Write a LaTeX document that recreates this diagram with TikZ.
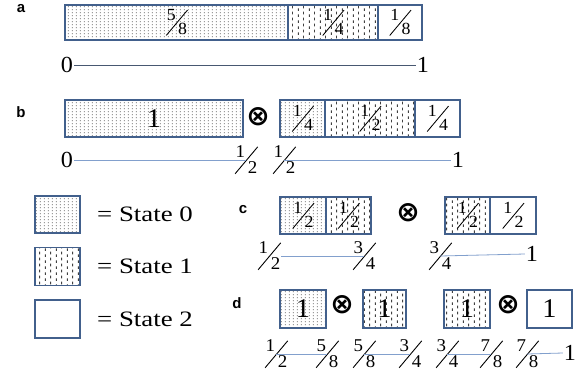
\documentclass[tikz,border=0pt]{standalone}
\usepackage{fontspec}
\setmainfont{Liberation Serif}[FakeStretch=1.05]
\setsansfont{Liberation Sans}
\newfontfamily\widefont{Liberation Serif}[FakeStretch=1.22]
\newfontfamily\symfont{DejaVu Sans}
\usepackage{graphicx}
\usepackage{tikz}
\usetikzlibrary{patterns,positioning}
\definecolor{boxblue}{RGB}{66,96,140}
\definecolor{axisblue}{RGB}{130,160,205}
% slanted fraction: numerator up left, denominator down right
\newcommand\fr[2]{\kern.05em\raisebox{.85em}{#1}\kern-.575em\raisebox{-.05em}{\rotatebox{50}{\rule{1.95em}{.05em}}}\kern-.57em#2}
\pgfdeclarepatternformonly{finedots}{\pgfqpoint{0pt}{0pt}}{\pgfqpoint{3.5pt}{3pt}}{\pgfqpoint{3.5pt}{3pt}}{%
  \pgfpathrectangle{\pgfqpoint{1pt}{1pt}}{\pgfqpoint{1pt}{1pt}}\pgfusepath{fill}}
\pgfdeclarepatternformonly{vdashes}{\pgfqpoint{0pt}{0pt}}{\pgfqpoint{11pt}{6pt}}{\pgfqpoint{11pt}{6pt}}{%
  \pgfpathrectangle{\pgfqpoint{1pt}{0pt}}{\pgfqpoint{1pt}{3pt}}\pgfusepath{fill}
  \pgfpathrectangle{\pgfqpoint{6.5pt}{3pt}}{\pgfqpoint{1pt}{3pt}}\pgfusepath{fill}}
\tikzset{Cells/.style = {% boxes of the three states
     cell/.style = {draw=boxblue, line width=1.6pt, inner sep=0pt, outer sep=0pt,
                    minimum height=37pt, font=\fontsize{17}{17}\selectfont},
     zero/.style = {cell, pattern=finedots, pattern color=black!60},
      one/.style = {cell, pattern=vdashes, pattern color=black!75},
      two/.style = {cell, fill=white},
      big/.style = {font=\fontsize{27}{27}\selectfont},
     axis/.style = {draw=axisblue, line width=0.8pt},
     tick/.style = {inner sep=1pt, font=\fontsize{18}{18}\selectfont},
    digit/.style = {inner sep=1pt, font=\fontsize{23}{23}\selectfont},
      tag/.style = {inner sep=0pt, font=\fontsize{15}{15}\selectfont\sffamily\bfseries},
   tensor/.style = {inner sep=0pt, font=\fontsize{28}{28}\selectfont\symfont\bfseries},
statetext/.style = {inner sep=0pt, font=\fontsize{22}{22}\selectfont\widefont}}
        }

\begin{document}
\begin{tikzpicture}[Cells, x=1pt, y=-1pt]
\useasboundingbox (0,0) rectangle (586,376);

% a
\node[tag] (tagA) at (21,9) {a};
\node[zero, minimum width=223pt, minimum height=35pt] (a01) at (176.5,22.5) {\fr58};
\node[one, minimum width=90pt, minimum height=35pt, right=0pt of a01] (a02) {\fr14};
\node[two, minimum width=44pt, minimum height=35pt, right=0pt of a02] (a03) {\fr18};
\node[digit] (a04) at (67,65) {0};
\node[digit] (a05) at (423,65) {1};
\draw[axis, draw=black!45!axisblue] (a04.east) -- (a05.west);

% b
\node[tag] (tagB) at (21,112) {b};
\node[zero, big, minimum width=178pt] (b01) at (154,118.5) {1};
\node[tensor] (b02) at (258,116.5) {⊗};
\node[zero, minimum width=45pt] (b03) at (302.5,118.5) {\fr14};
\node[one, minimum width=90pt, right=0pt of b03] (b04) {\fr12};
\node[two, minimum width=45pt, right=0pt of b04] (b05) {\fr14};
\node[digit] (b06) at (67,160) {0};
\node[tick] (b07) at (246,160) {\fr12};
\node[tick] (b08) at (284,160) {\fr12};
\node[digit] (b09) at (458,160) {1};
\draw[axis] (b06.east) -- (b07.center);
\draw[axis] (b08.center) -- (b09.west);

% legend
\node[zero, minimum width=45pt] (leg0) at (57.5,214.5) {};
\node[one, minimum width=45pt, minimum height=38pt] (leg1) at (57.5,266.5) {};
\node[two, minimum width=45pt, minimum height=38pt] (leg2) at (57.5,319) {};
\node[statetext, right=17pt of leg0] (txt0) {= State 0};
\node[statetext, right=17pt of leg1] (txt1) {= State 1};
\node[statetext, right=17pt of leg2] (txt2) {= State 2};

% c
\node[tag] (tagC) at (243,210) {c};
\node[zero, minimum width=46pt] (c01) at (303,215.5) {\fr12};
\node[one, minimum width=45pt, right=0pt of c01] (c02) {\fr12};
\node[tensor] (c03) at (408,212.5) {⊗};
\node[one, minimum width=45pt] (c04) at (467.5,215.5) {\fr12};
\node[two, minimum width=46pt, right=0pt of c04] (c05) {\fr12};
\node[tick] (c06) at (269,256) {\fr12};
\node[tick] (c07) at (364,256) {\fr34};
\node[tick] (c08) at (440,256) {\fr34};
\node[digit] (c09) at (532,254) {1};
\draw[axis] (c06.east) -- (c07.center);
\draw[axis] (c08.center) -- (c09.west);

% d
\node[tag] (tagD) at (237,303) {d};
\node[zero, big, minimum width=46pt, minimum height=38pt] (d01) at (303,309) {1};
\node[tensor] (d02) at (342,305) {⊗};
\node[one, big, minimum width=43pt, minimum height=38pt] (d03) at (384.5,309) {1};
\node[one, big, minimum width=46pt, minimum height=38pt] (d04) at (467,309) {1};
\node[tensor] (d05) at (508,305) {⊗};
\node[two, big, minimum width=45pt, minimum height=38pt] (d06) at (549.5,309) {1};
\node[tick] (d07) at (276,354) {\fr12};
\node[tick] (d08) at (327,354) {\fr58};
\node[tick] (d09) at (364,354) {\fr58};
\node[tick] (d10) at (410,354) {\fr34};
\node[tick] (d11) at (447,354) {\fr34};
\node[tick] (d12) at (491,354) {\fr78};
\node[tick] (d13) at (527,354) {\fr78};
\node[digit] (d14) at (570,353) {1};
\draw[axis] (d07.center) -- (d08.center);
\draw[axis] (d09.center) -- (d10.center);
\draw[axis] (d11.center) -- (d12.center);
\draw[axis] (d13.center) -- (d14.west);

\end{tikzpicture}
\end{document}
